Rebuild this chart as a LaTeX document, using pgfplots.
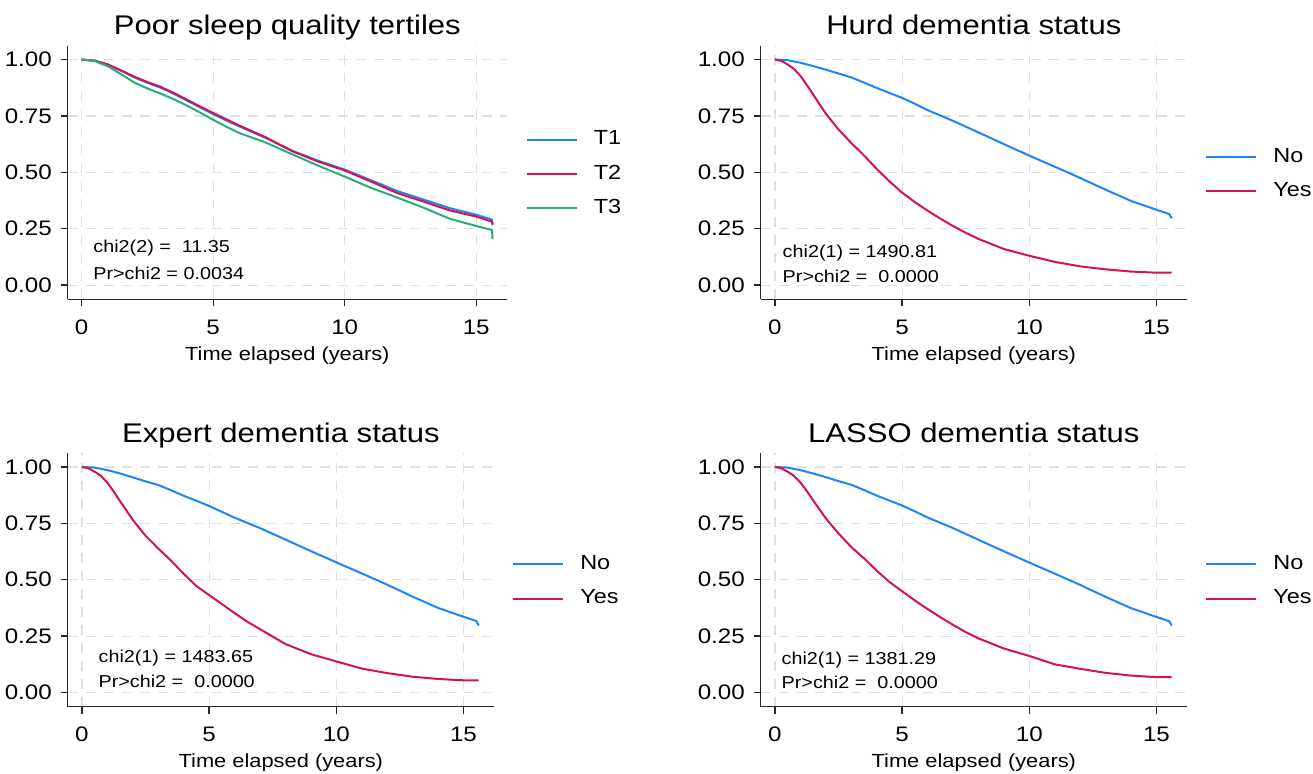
\documentclass[border=0pt]{standalone}
\usepackage{pgfplots}
\pgfplotsset{compat=1.18}
\usepackage{fontspec}
\setmainfont[FakeStretch=1.15]{Liberation Sans}

\definecolor{kmblue}{RGB}{26,133,255}
\definecolor{kmred}{RGB}{212,17,89}
\definecolor{kmgreen}{RGB}{38,174,120}
\definecolor{axisgray}{RGB}{40,40,40}
\definecolor{gridgray}{RGB}{224,224,224}

% shared look of the four Kaplan-Meier panels
\pgfplotsset{
  every axis title shift=0pt,
  km/.style={
    scale only axis, anchor=south west,
    height=126.65pt,
    xmin=-0.56, xmax=16.2,
    ymin=-0.063, ymax=1.06,
    axis x line=bottom, axis y line=left,
    axis line style={-, axisgray, line width=0.65pt},
    xtick={0,5,10,15}, ytick={0,0.25,0.5,0.75,1},
    tick align=outside, major tick length=3.5pt,
    tick style={axisgray, line width=0.65pt},
    grid=major,
    major grid style={gridgray, line width=0.6pt, dash pattern=on 5pt off 4pt},
    /pgf/number format/assume math mode=true,
    yticklabel style={/pgf/number format/fixed, /pgf/number format/fixed zerofill,
                      /pgf/number format/precision=2},
    tick label style={font=\fontsize{10.5}{12}\selectfont, text=black},
    xticklabel style={anchor=base, inner sep=0pt, yshift=-14pt},
    yticklabel style={anchor=east, inner sep=0pt, xshift=-4.25pt},
    xlabel={Time elapsed (years)},
    xlabel style={at={(axis description cs:0.5,0)}, anchor=base, yshift=-30.35pt,
                  font=\fontsize{9.5}{11}\selectfont},
    title style={at={(axis description cs:0.5,1)}, anchor=base, yshift=5.6pt,
                 font=\fontsize{13.5}{16}\selectfont},
    legend style={at={(axis description cs:1.042,0.494)}, anchor=west,
                  draw=none, fill=none, inner sep=0pt, row sep=7.15pt,
                  nodes={inner sep=0pt, text height=7.5pt, text depth=2.5pt,
                         font=\fontsize{10.2}{12}\selectfont},
                  /tikz/every odd column/.append style={column sep=8pt}},
    legend image code/.code={\draw[#1] (0pt,0pt) -- (25pt,0pt);},
    legend cell align=left,
    no markers,
    every axis plot/.append style={line width=1pt, line join=round},
  },
}
\tikzset{stat/.style={anchor=west, inner sep=0pt, font=\fontsize{8.6}{10}\selectfont}}

\begin{document}
\begin{tikzpicture}
\useasboundingbox (0,0) rectangle (656.5pt,-386.5pt);

% ---- top left
\begin{axis}[km, at={(33.85pt,-149.65pt)}, width=219.65pt,
  xmin=-0.532, xmax=16.17, title={Poor sleep quality tertiles}]
\addplot[kmblue] coordinates {
 (0,1) (0.5,0.995) (1,0.977) (1.5,0.950) (2,0.921) (2.5,0.897) (3,0.875)
 (3.5,0.848) (4,0.818) (4.5,0.788) (5,0.758) (5.5,0.730) (6,0.703) (7,0.652)
 (8,0.596) (9,0.551) (10,0.512) (11,0.465) (12,0.417) (13,0.379)
 (14,0.341) (15,0.312) (15.6,0.290) (15.62,0.265)};
\addplot[kmred] coordinates {
 (0,1) (0.5,0.995) (1,0.978) (1.5,0.952) (2,0.924) (2.5,0.900) (3,0.879)
 (3.5,0.852) (4,0.822) (4.5,0.792) (5,0.763) (5.5,0.735) (6,0.707) (7,0.655)
 (8,0.594) (9,0.547) (10,0.508) (11,0.459) (12,0.408) (13,0.370)
 (14,0.331) (15,0.304) (15.6,0.281) (15.62,0.270)};
\addplot[kmgreen] coordinates {
 (0,1) (0.5,0.993) (1,0.970) (1.5,0.935) (2,0.898) (2.5,0.872) (3,0.849)
 (3.5,0.824) (4,0.796) (4.5,0.765) (5,0.733) (5.5,0.702) (6,0.674) (7,0.632)
 (8,0.580) (9,0.529) (10,0.481) (11,0.431) (12,0.388) (13,0.343)
 (14,0.294) (15,0.262) (15.6,0.244) (15.62,0.205)};
\legend{T1,T2,T3}
\node[stat] at (axis cs:0.43,0.163) {chi2(2) =\ \ 11.35};
\node[stat] at (axis cs:0.43,0.052) {Pr>chi2 = 0.0034};
\end{axis}

% ---- top right
\begin{axis}[km, at={(380.35pt,-149.65pt)}, width=213.15pt,
  title={Hurd dementia status}]
\addplot[kmblue] coordinates {
 (0,1) (0.5,0.997) (1,0.986) (1.5,0.971) (2,0.955) (2.5,0.938) (3,0.921)
 (3.5,0.898) (4,0.874) (4.5,0.852) (5,0.830) (5.5,0.804) (6,0.776) (7,0.728)
 (8,0.677) (9,0.625) (10,0.574) (11,0.525) (12,0.475) (13,0.423)
 (14,0.373) (15,0.334) (15.5,0.315) (15.6,0.296)};
\addplot[kmred] coordinates {
 (0,1) (0.25,0.994) (0.5,0.978) (0.75,0.958) (1,0.928) (1.25,0.888) (1.5,0.845)
 (2,0.760) (2.5,0.690) (3,0.630)
 (3.5,0.575) (4,0.515) (4.5,0.460) (5,0.410) (5.5,0.368) (6,0.330) (6.5,0.295)
 (7,0.262) (7.5,0.232) (8,0.205) (9,0.160) (10,0.130) (11,0.103) (12,0.083)
 (13,0.070) (14,0.060) (15,0.055) (15.6,0.055)};
\legend{No,Yes}
\node[stat] at (axis cs:0.29,0.141) {chi2(1) = 1490.81};
\node[stat] at (axis cs:0.29,0.040) {Pr>chi2 =\ \ 0.0000};
\end{axis}

% ---- bottom left
\begin{axis}[km, at={(33.85pt,-353.35pt)}, width=213.15pt,
  title={Expert dementia status}]
\addplot[kmblue] coordinates {
 (0,1) (0.5,0.997) (1,0.986) (1.5,0.971) (2,0.954) (2.5,0.936) (3,0.920)
 (3.5,0.897) (4,0.872) (4.5,0.850) (5,0.827) (5.5,0.801) (6,0.775) (7,0.729)
 (8,0.678) (9,0.627) (10,0.577) (11,0.528) (12,0.478) (13,0.425)
 (14,0.375) (15,0.336) (15.5,0.317) (15.6,0.297)};
\addplot[kmred] coordinates {
 (0,1) (0.25,0.994) (0.5,0.979) (0.75,0.960) (1,0.930) (1.25,0.891) (1.5,0.848)
 (2,0.765) (2.5,0.695) (3,0.638)
 (3.5,0.585) (4,0.526) (4.5,0.472) (5,0.432) (5.5,0.392) (6,0.352) (6.5,0.314)
 (7,0.281) (7.5,0.248) (8,0.215) (9,0.170) (10,0.138) (11,0.106) (12,0.086)
 (13,0.070) (14,0.060) (15,0.054) (15.6,0.054)};
\legend{No,Yes}
\node[stat] at (axis cs:0.64,0.153) {chi2(1) = 1483.65};
\node[stat] at (axis cs:0.64,0.049) {Pr>chi2 =\ \ 0.0000};
\end{axis}

% ---- bottom right
\begin{axis}[km, at={(380.35pt,-353.35pt)}, width=213.15pt,
  title={LASSO dementia status}]
\addplot[kmblue] coordinates {
 (0,1) (0.5,0.997) (1,0.986) (1.5,0.971) (2,0.955) (2.5,0.937) (3,0.921)
 (3.5,0.898) (4,0.873) (4.5,0.851) (5,0.829) (5.5,0.803) (6,0.776) (7,0.729)
 (8,0.677) (9,0.626) (10,0.576) (11,0.527) (12,0.477) (13,0.424)
 (14,0.374) (15,0.335) (15.5,0.316) (15.6,0.297)};
\addplot[kmred] coordinates {
 (0,1) (0.25,0.994) (0.5,0.979) (0.75,0.960) (1,0.931) (1.25,0.894) (1.5,0.852)
 (2,0.772) (2.5,0.705) (3,0.645)
 (3.5,0.595) (4,0.540) (4.5,0.490) (5,0.449) (5.5,0.408) (6,0.370) (6.5,0.334)
 (7,0.300) (7.5,0.268) (8,0.240) (9,0.195) (10,0.162) (11,0.125) (12,0.105)
 (13,0.087) (14,0.075) (15,0.068) (15.6,0.068)};
\legend{No,Yes}
\node[stat] at (axis cs:0.25,0.145) {chi2(1) = 1381.29};
\node[stat] at (axis cs:0.25,0.044) {Pr>chi2 =\ \ 0.0000};
\end{axis}
\end{tikzpicture}
\end{document}
